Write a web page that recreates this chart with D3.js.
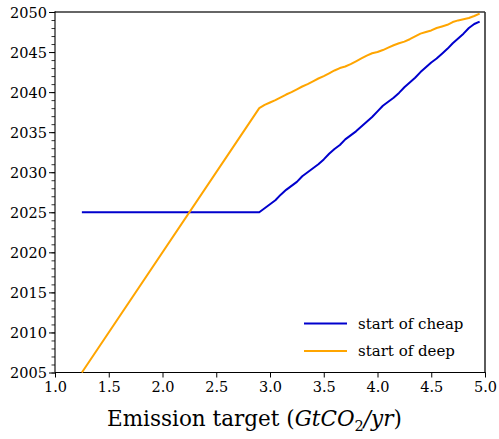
<!DOCTYPE html>
<html>
<head>
<meta charset="utf-8">
<script src="https://cdn.jsdelivr.net/npm/d3@7"></script>
<style>
  body { margin: 0; background: #fff; }
</style>
</head>
<body>
<div class="viewbox"></div>
<script>
// start of cheap: flat at 2025, then rising
const cheapX = [1.25, 2.90, 2.95, 3.00, 3.05, 3.10, 3.15, 3.20, 3.25, 3.30, 3.35, 3.40, 3.45, 3.50,
  3.55, 3.60, 3.65, 3.70, 3.75, 3.80, 3.85, 3.90, 3.95, 4.00, 4.05, 4.10, 4.15, 4.20, 4.25,
  4.30, 4.35, 4.40, 4.45, 4.50, 4.55, 4.60, 4.65, 4.70, 4.75, 4.80, 4.85, 4.90, 4.95]
const cheapYear = [2025, 2025, 2025.5, 2026.0, 2026.5, 2027.2, 2027.8, 2028.3, 2028.8, 2029.5, 2030.0,
  2030.5, 2031.0, 2031.6, 2032.3, 2032.9, 2033.4, 2034.1, 2034.6, 2035.1, 2035.7, 2036.3,
  2036.9, 2037.6, 2038.3, 2038.8, 2039.3, 2039.9, 2040.6, 2041.2, 2041.8, 2042.5, 2043.1,
  2043.7, 2044.2, 2044.8, 2045.4, 2046.1, 2046.7, 2047.3, 2048.0, 2048.5, 2048.8]

// start of deep: steep straight part, then slower
const deepX = [1.25, 2.90, 2.95, 3.00, 3.05, 3.10, 3.15, 3.20, 3.25, 3.30, 3.35, 3.40, 3.45, 3.50,
  3.55, 3.60, 3.65, 3.70, 3.75, 3.80, 3.85, 3.90, 3.95, 4.00, 4.05, 4.10, 4.15, 4.20, 4.25,
  4.30, 4.35, 4.40, 4.45, 4.50, 4.55, 4.60, 4.65, 4.70, 4.75, 4.80, 4.85, 4.90, 4.95]
const deepYear = [2005, 2038.0, 2038.4, 2038.7, 2039.0, 2039.35, 2039.7, 2040.0, 2040.35, 2040.7,
  2041.0, 2041.35, 2041.7, 2042.0, 2042.35, 2042.7, 2043.0, 2043.2, 2043.5, 2043.85, 2044.2,
  2044.55, 2044.85, 2045.0, 2045.25, 2045.55, 2045.85, 2046.1, 2046.3, 2046.6, 2046.95,
  2047.3, 2047.5, 2047.7, 2048.0, 2048.2, 2048.4, 2048.75, 2048.95, 2049.1, 2049.25, 2049.5, 2049.8]

const xTicks = [1.0, 1.5, 2.0, 2.5, 3.0, 3.5, 4.0, 4.5, 5.0]
const yTicks = [2005, 2010, 2015, 2020, 2025, 2030, 2035, 2040, 2045, 2050]

const seriesNames = ["start of cheap", "start of deep"]
const seriesColors = ["mediumblue", "orange"]

const svg_width = 499
const svg_height = 439
const plotLeft = 55, plotRight = 485, plotTop = 12, plotBottom = 372.5
const FONT = "DejaVu Serif"

let svg = d3.select(".viewbox")
  .append("svg")
  .attr("width", svg_width)
  .attr("height", svg_height)
  .attr("font-family", FONT)

let x = d3.scaleLinear().domain([1, 5]).range([plotLeft, plotRight])
let y = d3.scaleLinear().domain([2005, 2050]).range([plotBottom, plotTop])

// minor y ticks every year
let yMinor = svg.append("g")
  .attr("transform", `translate(${plotLeft},0)`)
  .call(d3.axisLeft(y).tickValues(d3.range(2005, 2051, 1)).tickSize(3.5).tickFormat(""))
yMinor.select(".domain").remove()
yMinor.selectAll("line").attr("stroke", "#000").attr("stroke-width", 0.8)

let yAxis = svg.append("g")
  .attr("transform", `translate(${plotLeft},0)`)
  .call(d3.axisLeft(y).tickValues(yTicks).tickSize(6).tickPadding(2).tickFormat(d3.format("d")))
  .attr("font-family", FONT)
  .attr("font-size", 14.5)
yAxis.select(".domain").remove()
yAxis.selectAll("line").attr("stroke", "#000").attr("stroke-width", 1)
yAxis.selectAll("text").attr("dy", "0.36em")

let xAxis = svg.append("g")
  .attr("transform", `translate(0,${plotBottom})`)
  .call(d3.axisBottom(x).tickValues(xTicks).tickSize(5).tickPadding(4).tickFormat(d3.format(".1f")))
  .attr("font-family", FONT)
  .attr("font-size", 14.5)
xAxis.select(".domain").remove()
xAxis.selectAll("line").attr("stroke", "#000").attr("stroke-width", 1)

// spines
svg.append("line").attr("x1", plotLeft).attr("x2", plotRight).attr("y1", plotTop).attr("y2", plotTop)
  .attr("stroke", "#333").attr("stroke-width", 1.6)
svg.append("line").attr("x1", plotRight).attr("x2", plotRight).attr("y1", plotTop).attr("y2", plotBottom)
  .attr("stroke", "#333").attr("stroke-width", 1.6)
svg.append("line").attr("x1", plotLeft).attr("x2", plotLeft).attr("y1", plotTop - 0.8).attr("y2", plotBottom)
  .attr("stroke", "#000").attr("stroke-width", 1.1)
svg.append("line").attr("x1", plotLeft).attr("x2", plotRight + 0.8).attr("y1", plotBottom).attr("y2", plotBottom)
  .attr("stroke", "#000").attr("stroke-width", 1.1)

let line = d3.line()
  .x(d => x(d[0]))
  .y(d => y(d[1]))

svg.append("path")
  .datum(cheapX.map((v, i) => [v, cheapYear[i]]))
  .attr("d", line)
  .attr("fill", "none")
  .attr("stroke", seriesColors[0])
  .attr("stroke-width", 2)
  .attr("stroke-linejoin", "round")

svg.append("path")
  .datum(deepX.map((v, i) => [v, deepYear[i]]))
  .attr("d", line)
  .attr("fill", "none")
  .attr("stroke", seriesColors[1])
  .attr("stroke-width", 2)
  .attr("stroke-linejoin", "round")

// legend
let legend = svg.append("g").attr("transform", "translate(304,323.5)")
seriesNames.forEach((name, i) => {
  let row = legend.append("g").attr("transform", `translate(0,${i * 27.5})`)
  row.append("line").attr("x1", 0).attr("x2", 43).attr("y1", 0).attr("y2", 0)
    .attr("stroke", seriesColors[i]).attr("stroke-width", 2)
  row.append("text").attr("x", 54).attr("y", 5)
    .attr("font-size", 15)
    .text(name)
})

// axis title
let title = svg.append("text")
  .attr("x", 107)
  .attr("y", 426)
  .attr("font-size", 21.5)
title.append("tspan").text("Emission target (")
title.append("tspan").attr("font-style", "italic").text("GtCO")
title.append("tspan").attr("dy", 4.5).attr("font-size", 14.5).text("2")
title.append("tspan").attr("dy", -4.5).attr("font-style", "italic").text("/yr")
title.append("tspan").text(")")
</script>
</body>
</html>
